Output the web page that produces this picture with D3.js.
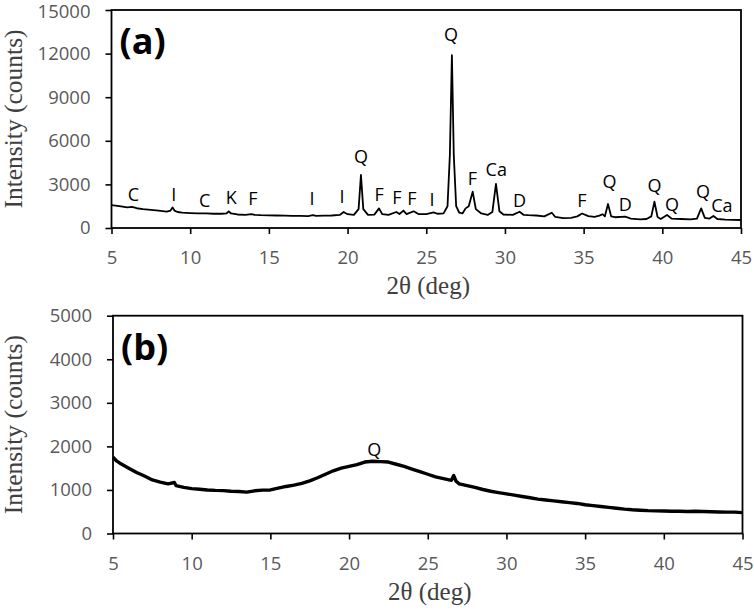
<!DOCTYPE html>
<html lang="en">
<head>
    <meta charset="UTF-8">
    <script src="https://d3js.org/d3.v7.min.js"></script>
    <title>XRD</title>
    <style>
        body { margin: 0; background: #fff; }
        .tick text { font-family: "Open Sans", sans-serif; font-size: 18.5px; fill: #595959; }
        .tick line { stroke: #000; stroke-width: 1.6; }
    </style>
</head>
<body>
    <svg width="754" height="610" id="chart"></svg>
    <script>

        // x ticks shared by both panels
        const angleTicks = [5, 10, 15, 20, 25, 30, 35, 40, 45];
        const countTicksA = [0, 3000, 6000, 9000, 12000, 15000];
        const countTicksB = [0, 1000, 2000, 3000, 4000, 5000];

        // panel (a) pattern
        const angleA = [5.0, 5.5, 6.0, 6.3, 6.6, 7.0, 7.5, 8.0, 8.5, 8.75, 8.88, 9.0, 9.2, 9.5, 10.0, 10.5, 11.0, 11.5, 12.0, 12.3,
            12.45, 12.6, 13.0, 13.5, 13.9, 14.1, 14.5, 15.0, 15.5, 16.0, 16.5, 17.0, 17.5, 17.8, 18.0, 18.5, 19.0, 19.5, 19.75, 20.0,
            20.4, 20.7, 20.85, 21.0, 21.3, 21.7, 22.0, 22.2, 22.6, 23.1, 23.3, 23.55, 23.75, 24.2, 24.5, 25.0, 25.47, 25.7, 26.1, 26.35,
            26.5, 26.63, 26.75, 26.9, 27.1, 27.3, 27.5, 27.7, 27.95, 28.15, 28.5, 28.9, 29.2, 29.43, 29.65, 29.9, 30.5, 30.93, 31.2, 31.5,
            32.0, 32.5, 32.98, 33.2, 33.7, 34.2, 34.6, 34.9, 35.3, 35.7, 36.0, 36.2, 36.35, 36.55, 36.75, 37.0, 37.65, 38.0, 38.6, 39.0,
            39.3, 39.5, 39.7, 39.9, 40.3, 40.6, 41.2, 41.8, 42.2, 42.47, 42.7, 43.0, 43.25, 43.5, 44.0, 44.5, 45.0];
        const countsA = [1580, 1500, 1420, 1450, 1360, 1300, 1250, 1200, 1130, 1200, 1420, 1200, 1100, 1060, 1030, 1010, 1000, 980, 980, 1000,
            1150, 1000, 930, 910, 960, 900, 880, 870, 860, 850, 840, 830, 820, 880, 840, 850, 860, 900, 1100, 950,
            900, 1300, 3650, 1300, 900, 920, 1350, 950, 900, 1100, 960, 1200, 950, 1150, 960, 950, 1080, 980, 1010, 1500,
            5000, 11900, 5000, 1500, 1050, 1000, 1350, 1500, 2500, 1300, 1000, 900, 1100, 3030, 1150, 930, 900, 1120, 900, 880,
            860, 800, 1050, 760, 680, 700, 800, 1000, 820, 760, 850, 950, 800, 1650, 800, 740, 780, 650, 600, 620,
            800, 1810, 750, 620, 900, 640, 620, 600, 650, 1350, 700, 650, 830, 620, 580, 560, 550];

        // phase letters over the peaks of (a)
        const peakNames = ["C", "I", "C", "K", "F", "I", "I", "Q", "F", "F", "F", "I", "Q", "F", "Ca", "D", "F", "Q", "D", "Q", "Q", "Q", "Ca"];
        const peakAngles = [6.40, 8.95, 10.92, 12.61, 13.99, 17.74, 19.64, 20.85, 22.01, 23.14, 24.09, 25.36, 26.57, 27.94, 29.45, 30.93,
            34.89, 36.65, 37.64, 39.50, 40.61, 42.58, 43.79];
        const peakCounts = [2270, 2270, 1860, 2085, 2045, 2000, 2155, 4905, 2270, 2110, 2045, 1975, 13280, 3420, 3990, 1925,
            1925, 3185, 1650, 2890, 1650, 2500, 1580];

        // panel (b) pattern
        const angleB = [5.0, 5.25, 5.5, 6.0, 6.5, 7.0, 7.5, 8.0, 8.5, 8.9, 9.0, 9.5, 10.0, 10.5, 11.0, 11.5, 12.0, 12.5, 13.0, 13.5,
            14.0, 14.5, 15.0, 15.5, 16.0, 16.5, 17.0, 17.5, 18.0, 18.5, 19.0, 19.5, 20.0, 20.5, 21.0, 21.5, 22.0, 22.5, 23.0, 23.5,
            24.0, 24.5, 25.0, 25.5, 26.0, 26.5, 26.65, 26.8, 27.0, 27.5, 28.0, 28.5, 29.0, 29.5, 30.0, 30.5, 31.0, 31.5, 32.0, 32.5,
            33.0, 33.5, 34.0, 34.5, 35.0, 35.5, 36.0, 36.5, 37.0, 37.5, 38.0, 38.5, 39.0, 39.5, 40.0, 40.5, 41.0, 41.5, 42.0, 42.5,
            43.0, 43.5, 44.0, 44.5, 45.0];
        const countsB = [1750, 1660, 1600, 1500, 1400, 1320, 1230, 1180, 1140, 1170, 1100, 1060, 1030, 1015, 1000, 990, 985, 970, 965, 950,
            980, 995, 1000, 1040, 1080, 1110, 1150, 1210, 1280, 1360, 1440, 1500, 1540, 1580, 1640, 1660, 1650, 1640, 1590, 1540,
            1480, 1420, 1360, 1300, 1260, 1220, 1330, 1200, 1140, 1100, 1060, 1010, 970, 940, 910, 880, 850, 820, 790, 770,
            750, 730, 710, 690, 660, 640, 620, 600, 580, 560, 545, 535, 525, 520, 515, 510, 510, 505, 510, 505,
            500, 495, 490, 490, 480];

        const svg = d3.select("#chart");

        function drawPanel(cfg) {
            let x = d3.scaleLinear().domain([5, 45]).range([cfg.left, cfg.right]);
            let y = d3.scaleLinear().domain([0, cfg.max]).range([cfg.bottom, cfg.top]);
            let g = svg.append("g");

            // frame
            g.append("rect")
                .attr("x", cfg.left)
                .attr("y", cfg.top)
                .attr("width", cfg.right - cfg.left)
                .attr("height", cfg.bottom - cfg.top)
                .attr("style", "fill: none; stroke: black; stroke-width: 1.8");

            let xAxis = g.append("g")
                .attr("transform", "translate(0," + cfg.bottom + ")")
                .call(d3.axisBottom(x).tickValues(angleTicks).tickSize(6).tickPadding(17).tickSizeOuter(0));
            xAxis.select(".domain").remove();

            let yAxis = g.append("g")
                .attr("transform", "translate(" + cfg.left + ",0)")
                .call(d3.axisLeft(y).tickValues(cfg.ticks).tickFormat(d3.format("d"))
                    .tickSize(6).tickPadding(15).tickSizeOuter(0));
            yAxis.select(".domain").remove();
            // top label sits right at the page edge, nudge it in a bit
            yAxis.selectAll(".tick text").filter(d => d === cfg.max && cfg.top < 20).attr("dy", "0.42em");

            // the pattern
            let line = d3.line()
                .x(d => x(d[0]))
                .y(d => y(d[1]));
            g.append("path")
                .datum(cfg.angles.map((a, i) => [a, cfg.counts[i]]))
                .attr("d", line)
                .attr("style", "fill: none; stroke: black; stroke-width: " + cfg.lw + "; stroke-linejoin: round");

            // phase letters
            g.selectAll(".peak")
                .data(cfg.names)
                .enter()
                .append("text")
                .attr("x", (d, i) => x(cfg.peakX[i]))
                .attr("y", (d, i) => y(cfg.peakY[i]))
                .attr("dy", "0.36em")
                .attr("text-anchor", "middle")
                .attr("style", "font-family: 'Open Sans', sans-serif; font-size: 18px; fill: black;")
                .text(d => d);

            // panel tag
            g.append("text")
                .attr("x", cfg.left + 8)
                .attr("y", cfg.top + 44)
                .attr("style", "font-family: 'Open Sans', sans-serif; font-weight: bold; font-size: 36px; fill: black;")
                .text(cfg.tag);

            // axis titles
            g.append("text")
                .attr("x", (cfg.left + cfg.right) / 2 + 2)
                .attr("y", cfg.bottom + 66)
                .attr("text-anchor", "middle")
                .attr("style", "font-family: 'Liberation Serif', serif; font-size: 25px; fill: #404040;")
                .text("2θ (deg)");

            let cy = (cfg.top + cfg.bottom) / 2;
            g.append("text")
                .attr("transform", "translate(22," + cy + ") rotate(-90)")
                .attr("text-anchor", "middle")
                .attr("style", "font-family: 'Liberation Serif', serif; font-size: 25.5px; fill: #404040;")
                .text("Intensity (counts)");
        }

        drawPanel({
            left: 111.5, right: 741, top: 10, bottom: 228, max: 15000, ticks: countTicksA,
            angles: angleA, counts: countsA, lw: 1.8,
            names: peakNames, peakX: peakAngles, peakY: peakCounts, tag: "(a)"
        });

        drawPanel({
            left: 113, right: 742.5, top: 315.7, bottom: 533.5, max: 5000, ticks: countTicksB,
            angles: angleB, counts: countsB, lw: 3.4,
            names: ["Q"], peakX: [21.6], peakY: [1917], tag: "(b)"
        });

    </script>
</body>
</html>
